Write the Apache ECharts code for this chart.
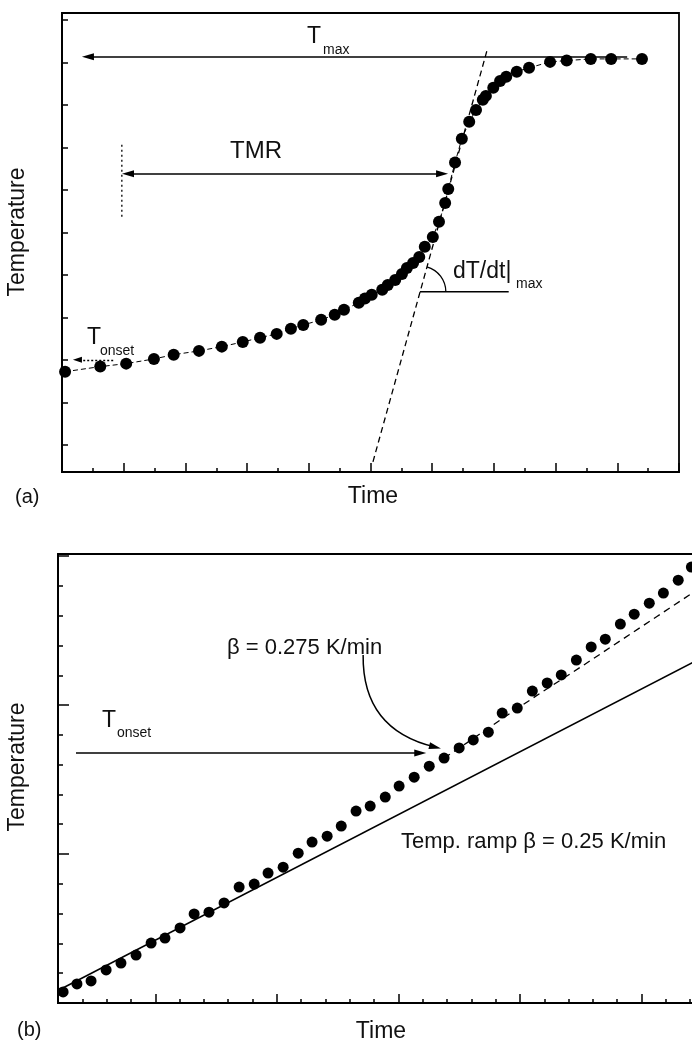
<!DOCTYPE html>
<html>
<head>
<meta charset="utf-8">
<script src="https://cdn.jsdelivr.net/npm/echarts@6/dist/echarts.min.js"></script>
<style>
html, body { margin: 0; padding: 0; background: #fff; }
#chart { width: 692px; height: 1043px; }
</style>
</head>
<body>
<div id="chart"></div>
<script>
// (a) runaway curve, arbitrary units (1 unit = one tick)
const aTime = [0.05, 0.62, 1.04, 1.49, 1.81, 2.22, 2.59, 2.93, 3.21, 3.48, 3.71, 3.91, 4.20, 4.42, 4.57,
  4.81, 4.91, 5.02, 5.19, 5.28, 5.40, 5.51, 5.59, 5.69, 5.79, 5.88, 6.01, 6.11, 6.21, 6.26,
  6.37, 6.48, 6.60, 6.71, 6.82, 6.87, 6.99, 7.10, 7.20, 7.37, 7.57, 7.91, 8.18, 8.57, 8.90, 9.40];
const aTemp = [1.72, 1.84, 1.91, 2.02, 2.12, 2.21, 2.31, 2.42, 2.52, 2.61, 2.73, 2.82, 2.94, 3.06, 3.18,
  3.34, 3.44, 3.53, 3.65, 3.76, 3.88, 4.02, 4.16, 4.28, 4.42, 4.66, 4.89, 5.25, 5.69, 6.02,
  6.64, 7.20, 7.60, 7.88, 8.12, 8.21, 8.40, 8.56, 8.66, 8.78, 8.87, 9.01, 9.04, 9.08, 9.08, 9.08];
const aTickY = [0, 1, 2, 3, 4, 5, 6, 7, 8, 9, 10];
const tangentA = [[5.04, -0.40], [6.90, 9.34]];
const angleLeg = [[5.80, 3.6], [7.24, 3.6]];
const tmaxArrow = [[9.16, 9.13], [0.42, 9.13]];
const tmrArrow = [[1.07, 6.38], [6.16, 6.38]];
const tmrStart = [[0.97, 7.06], [0.97, 5.34]];
const onsetArrowA = [[0.83, 2.0], [0.25, 2.0]];

// (b) constant ramp, arbitrary units
const bTime = [0.21, 0.78, 1.36, 1.98, 2.59, 3.21, 3.83, 4.40, 5.02, 5.60, 6.21, 6.83, 7.45, 8.07, 8.64,
  9.26, 9.88, 10.45, 11.07, 11.65, 12.26, 12.84, 13.46, 14.03, 14.65, 15.27, 15.88, 16.50, 17.08, 17.70,
  18.27, 18.89, 19.51, 20.12, 20.70, 21.32, 21.93, 22.51, 23.13, 23.70, 24.32, 24.90, 25.51, 26.05];
const bTemp = [0.37, 0.64, 0.74, 1.11, 1.34, 1.61, 2.01, 2.18, 2.52, 2.99, 3.05, 3.36, 3.89, 3.99, 4.36,
  4.56, 5.03, 5.40, 5.60, 5.94, 6.44, 6.61, 6.91, 7.28, 7.58, 7.95, 8.22, 8.56, 8.83, 9.09,
  9.73, 9.90, 10.47, 10.74, 11.01, 11.51, 11.95, 12.21, 12.72, 13.05, 13.42, 13.76, 14.19, 14.63];
const rampTime = [0, 26.2];
const rampTemp = [0.42, 11.47];
const fitTime = [15.88, 16.83, 18.48, 19.84, 21.60, 23.13, 24.65, 26.2];
const fitTemp = [8.22, 8.74, 9.66, 10.40, 11.33, 12.16, 12.98, 13.82];
const bMajorX = [4, 9, 14, 19, 24];
const bMajorY = [0, 5, 10, 15];
const onsetArrowB = [[0.74, 8.39], [14.9, 8.39]];
const betaArrow = [[12.55, 11.68], [15.51, 8.59]];

const FONT = '"Liberation Sans", Arial, Helvetica, sans-serif';
const zip = (xs, ys) => xs.map((x, i) => [x, ys[i]]);

const chart = echarts.init(document.getElementById('chart'));

function axis(extra) {
  return Object.assign({
    type: 'value',
    axisLine: { show: true, onZero: false, lineStyle: { color: '#000', width: 2 } },
    axisLabel: { show: false },
    splitLine: { show: false },
    axisTick: { show: true, inside: true, length: 5, lineStyle: { color: '#000', width: 1.5 } }
  }, extra);
}

function tick(len, extra) {
  return Object.assign({ show: true, inside: true, length: len, lineStyle: { color: '#000', width: 1.5 } }, extra);
}

function plain(data, x, y, style) {
  return {
    type: 'line', xAxisIndex: x, yAxisIndex: y, data: data, symbol: 'none',
    lineStyle: Object.assign({ color: '#000', width: 1.4 }, style)
  };
}

function arrow(data, x, y, both, size, style) {
  return {
    type: 'lines', coordinateSystem: 'cartesian2d', xAxisIndex: x, yAxisIndex: y,
    symbol: [both ? 'triangle' : 'none', 'triangle'],
    symbolSize: [both ? size : 0, size],
    lineStyle: Object.assign({ color: '#000', width: 1.5, opacity: 1 }, style),
    data: [{ coords: data }],
    z: 5
  };
}

chart.setOption({
  animation: false,
  grid: [
    { left: 62, top: 13, width: 617, height: 459, outerBoundsMode: 'none',
      show: true, borderColor: '#000', borderWidth: 1.8 },
    { left: 58, top: 554, width: 637, height: 449, outerBoundsMode: 'none',
      show: true, borderColor: '#000', borderWidth: 1.8 }
  ],
  xAxis: [
    axis({ gridIndex: 0, min: 0, max: 10, interval: 1, position: 'bottom',
      axisTick: tick(9), minorTick: { show: true, splitNumber: 2, length: 4, lineStyle: { color: '#000', width: 1.5 } } }),
    axis({ gridIndex: 1, min: 0, max: 26.2, interval: 1, position: 'bottom', axisTick: tick(4) }),
    axis({ gridIndex: 1, min: 0, max: 26.2, position: 'bottom', axisLine: { show: false, onZero: false },
      axisTick: tick(9, { customValues: bMajorX }) })
  ],
  yAxis: [
    axis({ gridIndex: 0, min: -0.64, max: 10.16, position: 'left', axisTick: tick(6, { customValues: aTickY }) }),
    axis({ gridIndex: 1, min: 0, max: 15.07, interval: 1, position: 'left', axisTick: tick(5) }),
    axis({ gridIndex: 1, min: 0, max: 15.07, position: 'left', axisLine: { show: false, onZero: false },
      axisTick: tick(11, { customValues: bMajorY }) })
  ],
  series: [
    {
      type: 'line', xAxisIndex: 0, yAxisIndex: 0, data: zip(aTime, aTemp),
      symbol: 'circle', symbolSize: 12, showAllSymbol: true,
      itemStyle: { color: '#000', opacity: 1 },
      lineStyle: { color: '#000', width: 1, type: [5, 3] },
      z: 4
    },
    plain(tangentA, 0, 0, { type: [6, 4], width: 1.3 }),
    plain(angleLeg, 0, 0, {}),
    plain(tmrStart, 0, 0, { type: [2, 3], width: 1.3 }),
    arrow(tmaxArrow, 0, 0, false, [7, 12], {}),
    arrow(tmrArrow, 0, 0, true, [7, 12], {}),
    arrow(onsetArrowA, 0, 0, false, [6, 9], { type: [2, 2], width: 1.3 }),
    {
      type: 'scatter', xAxisIndex: 1, yAxisIndex: 1, data: zip(bTime, bTemp),
      symbol: 'circle', symbolSize: 11, itemStyle: { color: '#000', opacity: 1 }, z: 4
    },
    plain(zip(rampTime, rampTemp), 1, 1, { width: 1.5 }),
    plain(zip(fitTime, fitTemp), 1, 1, { type: [7, 5], width: 1.3 }),
    arrow(onsetArrowB, 1, 1, false, [7, 12], {}),
    arrow(betaArrow, 1, 1, false, [7, 12], { curveness: -0.4 })
  ]
});

// text labels
function txt(text, x, y, size, align, rot) {
  return {
    type: 'text', x: x, y: y, rotation: rot || 0, z: 10,
    style: { text: text, fontSize: size, fontFamily: FONT, fill: '#111', align: align || 'left', verticalAlign: 'middle' }
  };
}

// angle arc at the tangent / horizontal leg
const vtxPx = chart.convertToPixel({ gridIndex: 0 }, angleLeg[0]);
const tanPx = chart.convertToPixel({ gridIndex: 0 }, tangentA[1]);
const tanAngle = Math.atan2(tanPx[1] - vtxPx[1], tanPx[0] - vtxPx[0]);

chart.setOption({
  graphic: [
    txt('T', 307, 37, 23),
    txt('max', 323, 50, 14),
    txt('TMR', 230, 151, 24),
    txt('T', 87, 338, 23),
    txt('onset', 100, 351, 14),
    txt('dT/dt|', 453, 272, 23),
    txt('max', 516, 284, 14),
    txt('Temperature', 18, 232, 23, 'center', Math.PI / 2),
    txt('Time', 373, 497, 23, 'center'),
    txt('(a)', 15, 497, 20),
    txt('\u03b2 = 0.275 K/min', 227, 648, 22),
    txt('T', 102, 721, 23),
    txt('onset', 117, 733, 14),
    txt('Temp. ramp \u03b2 = 0.25 K/min', 401, 842, 22),
    txt('Temperature', 18, 767, 23, 'center', Math.PI / 2),
    txt('Time', 381, 1032, 23, 'center'),
    txt('(b)', 17, 1030, 20),
    {
      type: 'arc', z: 10,
      shape: { cx: vtxPx[0], cy: vtxPx[1], r: 26, startAngle: tanAngle, endAngle: 0, clockwise: true },
      style: { stroke: '#000', fill: null, lineWidth: 1.3 }
    }
  ]
});
</script>
</body>
</html>
